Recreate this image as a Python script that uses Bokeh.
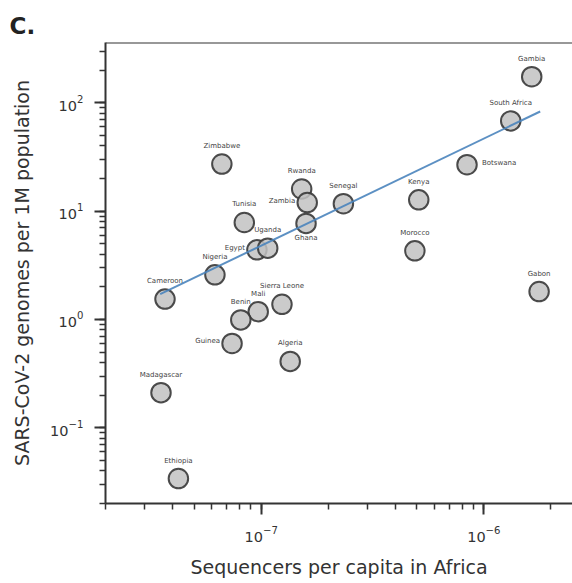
from bokeh.plotting import figure
from bokeh.models import ColumnDataSource, Span, LogTicker
from bokeh.core.properties import value
from bokeh.embed import file_html
from bokeh.resources import INLINE

# ---- data ----
countries = ["Gambia", "South Africa", "Botswana", "Kenya", "Senegal", "Morocco",
             "Gabon", "Zimbabwe", "Rwanda", "Zambia", "Ghana", "Tunisia", "Egypt",
             "Uganda", "Nigeria", "Cameroon", "Sierra Leone", "Mali", "Benin",
             "Guinea", "Algeria", "Madagascar", "Ethiopia"]
sequencers_per_capita = [1.64e-6, 1.32e-6, 8.4e-7, 5.1e-7, 2.34e-7, 4.9e-7,
                         1.77e-6, 6.66e-8, 1.52e-7, 1.61e-7, 1.59e-7, 8.4e-8, 9.57e-8,
                         1.07e-7, 6.2e-8, 3.7e-8, 1.24e-7, 9.7e-8, 8.1e-8,
                         7.4e-8, 1.35e-7, 3.55e-8, 4.25e-8]
genomes_per_million = [174, 68, 26.8, 12.7, 11.7, 4.3,
                       1.81, 27.2, 16.0, 12.0, 7.7, 7.85, 4.39,
                       4.55, 2.58, 1.54, 1.38, 1.18, 0.99,
                       0.60, 0.41, 0.211, 0.034]
fit_x = [3.52e-8, 1.79e-6]
fit_y = [1.71, 83.1]

# label placement (style only)
placement = {"Botswana": "right", "Zambia": "left", "Egypt": "left",
             "Guinea": "left", "Ghana": "below"}
offsets = {"above": (0, -18, "center"), "right": (15, -2, "left"),
           "left": (-12, -2, "right"), "below": (0, 15, "center")}

xo, yo, al = [], [], []
for c in countries:
    dx, dy, a = offsets[placement.get(c, "above")]
    xo.append(dx); yo.append(dy); al.append(a)

src = ColumnDataSource(dict(x=sequencers_per_capita, y=genomes_per_million,
                            name=countries, xo=xo, yo=yo, al=al))

FONT = "DejaVu Sans"
TXT = "#333333"

p = figure(width=572, height=583, x_axis_type="log", y_axis_type="log",
           x_range=(2e-8, 2.5e-6), y_range=(0.02, 360),
           output_backend="svg", toolbar_location=None,
           min_border_left=105, min_border_right=0, min_border_top=42,
           min_border_bottom=80)
p.outline_line_color = None
p.grid.visible = False
p.background_fill_color = "white"
p.border_fill_color = "white"

p.title.text = "C."
p.title.text_font = FONT
p.title.text_font_size = "23px"
p.title.text_font_style = "bold"
p.title.text_color = "#222222"
p.title.align = "left"
p.title.offset = -96
p.title.standoff = 8

for ax in (p.xaxis, p.yaxis):
    ax.ticker = LogTicker(num_minor_ticks=10)
    ax.axis_line_width = 2
    ax.axis_line_color = "#333333"
    ax.major_tick_line_color = "#333333"
    ax.major_tick_line_width = 2
    ax.minor_tick_line_color = "#333333"
    ax.minor_tick_line_width = 1.5
    ax.major_tick_in = 0
    ax.minor_tick_in = 0
    ax.major_tick_out = 11
    ax.minor_tick_out = 6
    ax.major_label_text_font = FONT
    ax.major_label_text_font_size = "14.5px"
    ax.major_label_text_color = TXT
    ax.axis_label_text_font = FONT
    ax.axis_label_text_font_size = "19px"
    ax.axis_label_text_font_style = "normal"
    ax.axis_label_text_color = TXT

p.xaxis.axis_label = "Sequencers per capita in Africa"
p.yaxis.axis_label = "SARS-CoV-2 genomes per 1M population"
p.xaxis.major_label_standoff = 11
p.yaxis.major_label_standoff = 11
p.xaxis.axis_label_standoff = 11
p.yaxis.axis_label_standoff = 14

p.add_layout(Span(location=360, dimension="width", line_color="#333333", line_width=2))

p.scatter("x", "y", source=src, size=19.5, fill_color="#c2c2c2", fill_alpha=0.85,
          line_color="#383838", line_width=2, line_alpha=0.9)

p.line(fit_x, fit_y, line_color="#4a84bd", line_width=2, line_alpha=0.9)

p.text("x", "y", text="name", source=src, x_offset="xo", y_offset="yo",
       text_align="al", text_baseline="middle", text_font=value(FONT),
       text_font_size="7px", text_color="#444444")

open("out.html", "w").write(file_html(p, INLINE))
